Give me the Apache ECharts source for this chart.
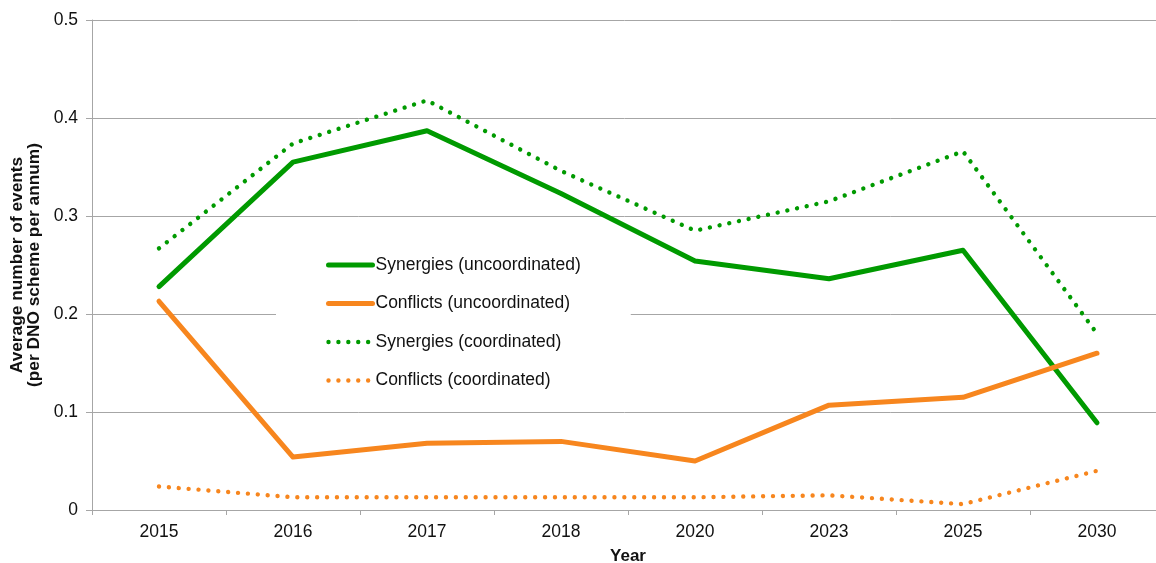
<!DOCTYPE html>
<html>
<head>
<meta charset="utf-8">
<script src="https://cdn.jsdelivr.net/npm/echarts@6/dist/echarts.min.js"></script>
<style>
  html, body { margin: 0; padding: 0; background: #fff; }
  #chart { width: 1156px; height: 563px; }
</style>
</head>
<body>
<div id="chart"></div>
<script>
// Years on the category axis
const years = ['2015', '2016', '2017', '2018', '2020', '2023', '2025', '2030'];

// Average number of events per DNO scheme per annum
const synergiesUncoordinated = [0.228, 0.355, 0.387, 0.323, 0.254, 0.236, 0.265, 0.089];
const conflictsUncoordinated = [0.213, 0.054, 0.068, 0.070, 0.050, 0.107, 0.115, 0.160];
const synergiesCoordinated   = [0.267, 0.374, 0.418, 0.346, 0.285, 0.315, 0.366, 0.180];
const conflictsCoordinated   = [0.024, 0.013, 0.013, 0.013, 0.013, 0.015, 0.006, 0.040];

const GREEN = '#009A00';
const ORANGE = '#F7861E';
const FONT = '"Liberation Sans", Arial, sans-serif';
const DOTS = [0.01, 9.9];

function lineSeries(name, data, color, dotted) {
  return {
    name: name,
    type: 'line',
    data: data,
    symbol: 'none',
    showSymbol: false,
    smooth: false,
    animation: false,
    lineStyle: {
      color: color,
      width: dotted ? 4.4 : 5,
      type: dotted ? DOTS : 'solid',
      cap: 'round',
      join: 'round'
    },
    itemStyle: { color: color }
  };
}

const chart = echarts.init(document.getElementById('chart'), null, { renderer: 'canvas' });

chart.setOption({
  backgroundColor: '#ffffff',
  animation: false,
  textStyle: { fontFamily: FONT },
  grid: { left: 92, right: -8, top: 20, bottom: 53, containLabel: false, outerBoundsMode: 'none' },
  legend: {
    orient: 'vertical',
    left: 276,
    top: 240,
    padding: [16, 50, 16, 50],
    backgroundColor: '#ffffff',
    itemWidth: 44,
    itemHeight: 14,
    itemGap: 20.5,
    itemStyle: { opacity: 0 },
    lineStyle: { width: 'inherit', type: 'inherit', cap: 'inherit' },
    textStyle: { fontFamily: FONT, fontSize: 17.5, color: '#111', padding: [0, 0, 0, -2] },
    data: [
      'Synergies (uncoordinated)',
      'Conflicts (uncoordinated)',
      'Synergies (coordinated)',
      'Conflicts (coordinated)'
    ]
  },
  xAxis: {
    type: 'category',
    data: years,
    boundaryGap: true,
    name: 'Year',
    nameLocation: 'middle',
    nameGap: 38,
    nameMoveOverlap: false,
    nameTextStyle: { fontFamily: FONT, fontSize: 17, fontWeight: 'bold', color: '#111' },
    axisLine: { lineStyle: { color: '#A6A6A6', width: 1 } },
    axisTick: { show: true, alignWithLabel: false, length: 5, lineStyle: { color: '#A6A6A6' } },
    axisLabel: { fontFamily: FONT, fontSize: 17.5, color: '#111', margin: 13 },
    splitLine: { show: false }
  },
  yAxis: {
    type: 'value',
    min: 0,
    max: 0.5,
    interval: 0.1,
    name: 'Average number of events\n(per DNO scheme per annum)',
    nameLocation: 'middle',
    nameGap: 50,
    nameMoveOverlap: false,
    nameTextStyle: { fontFamily: FONT, fontSize: 17.3, fontWeight: 'bold', color: '#111', lineHeight: 16.5 },
    axisLine: { show: true, lineStyle: { color: '#A6A6A6', width: 1 } },
    axisTick: { show: true, length: 6, lineStyle: { color: '#A6A6A6' } },
    axisLabel: { fontFamily: FONT, fontSize: 17.5, color: '#111', margin: 14 },
    splitLine: { show: true, lineStyle: { color: '#A6A6A6', width: 1 } }
  },
  series: [
    lineSeries('Synergies (uncoordinated)', synergiesUncoordinated, GREEN, false),
    lineSeries('Conflicts (uncoordinated)', conflictsUncoordinated, ORANGE, false),
    lineSeries('Synergies (coordinated)', synergiesCoordinated, GREEN, true),
    lineSeries('Conflicts (coordinated)', conflictsCoordinated, ORANGE, true)
  ]
});
</script>
</body>
</html>
